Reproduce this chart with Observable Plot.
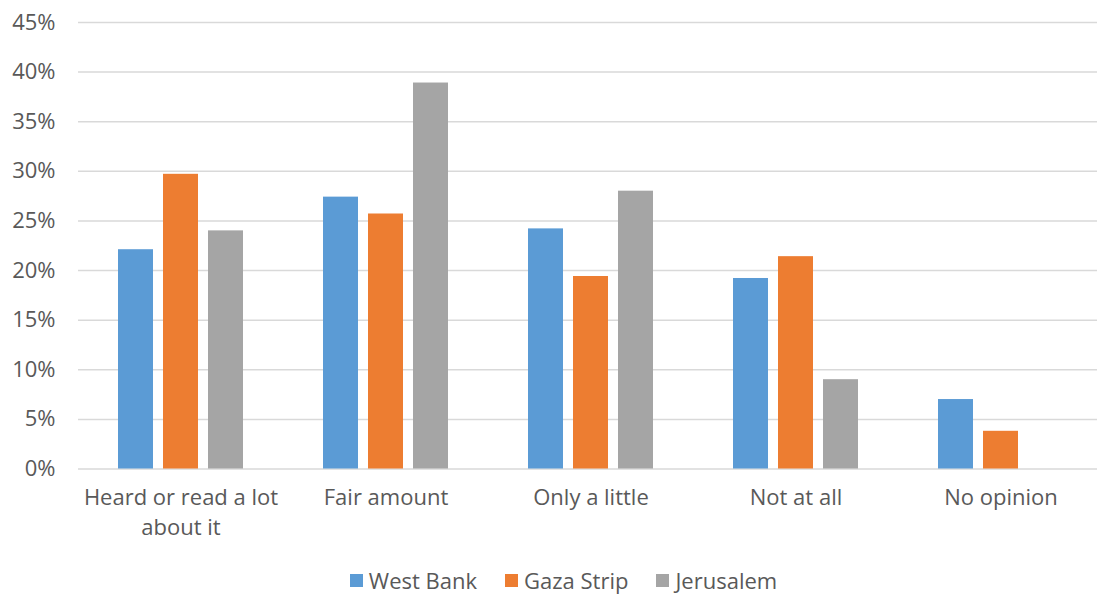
<!DOCTYPE html>
<html><head><meta charset="utf-8">
<script src="https://cdn.jsdelivr.net/npm/d3@7"></script>
<script src="https://cdn.jsdelivr.net/npm/@observablehq/plot@0.6"></script>
<style>
html,body{margin:0;padding:0;background:#fff;font-family:"Open Sans",sans-serif;overflow:hidden;}
#chart{width:1097px;height:545px;overflow:hidden;}
#chart svg{display:block;max-width:none !important;width:1103px !important;height:545px !important;}
#legend{display:flex;justify-content:center;align-items:center;height:30px;margin-top:20px;padding-left:30px;font-size:22px;color:#595959;font-family:"Open Sans",sans-serif;}
#legend .item{display:flex;align-items:center;margin:0 14px;}
#legend .sw{width:13px;height:13px;margin-right:6px;}
</style></head>
<body>
<div id="chart"></div>
<div id="legend"></div>
<script>
const categories = ["Heard or read a lot\nabout it", "Fair amount", "Only a little", "Not at all", "No opinion"];
const series = ["West Bank", "Gaza Strip", "Jerusalem"];
const westBank = [22.1, 27.4, 24.2, 19.2, 7.0];
const gazaStrip = [29.7, 25.7, 19.4, 21.4, 3.8];
const jerusalem = [24.0, 38.9, 28.0, 9.0, null];
const colors = ["#5B9BD5", "#ED7D31", "#A5A5A5"];
const yTicks = [0, 5, 10, 15, 20, 25, 30, 35, 40, 45];

const valuesBySeries = [westBank, gazaStrip, jerusalem];
const data = [];
series.forEach((s, si) => {
  categories.forEach((c, ci) => {
    const v = valuesBySeries[si][ci];
    if (v != null) data.push({cat: c, series: s, value: v});
  });
});

const chart = Plot.plot({
  width: 1103,
  height: 545,
  marginLeft: 78,
  marginRight: 0,
  marginTop: 22,
  marginBottom: 76.5,
  style: {fontFamily: "'Open Sans', sans-serif", fontSize: "22px", color: "#595959", background: "#fff", maxWidth: "none"},
  fx: {domain: categories, padding: 0, label: null},
  x: {domain: series, paddingInner: 0.22, paddingOuter: 0.86, axis: null},
  y: {domain: [0, 45], axis: null},
  color: {domain: series, range: colors},
  marks: [
    Plot.ruleY(yTicks, {stroke: "#d9d9d9", strokeWidth: 1.5}),
    Plot.barY(data, {fx: "cat", x: "series", y: "value", fill: "series"}),
    Plot.axisY({ticks: yTicks, tickSize: 0, tickPadding: 23, tickFormat: d => d + "%", fontSize: 22, label: null, fill: "#595959"}),
    Plot.axisFx({anchor: "bottom", tickSize: 0, tickPadding: 15, lineHeight: 1.36, fontSize: 22, label: null, fill: "#595959"})
  ]
});
document.getElementById("chart").appendChild(chart);

const legend = document.getElementById("legend");
series.forEach((s, i) => {
  const item = document.createElement("div");
  item.className = "item";
  const sw = document.createElement("div");
  sw.className = "sw";
  sw.style.background = colors[i];
  const t = document.createElement("span");
  t.textContent = s;
  item.appendChild(sw);
  item.appendChild(t);
  legend.appendChild(item);
});
</script>
</body></html>
